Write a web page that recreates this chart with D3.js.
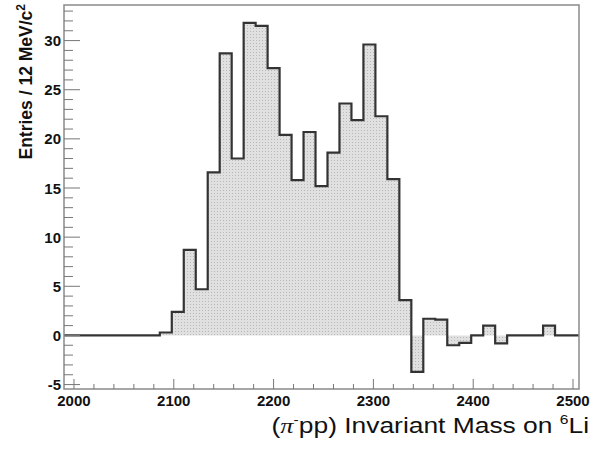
<!DOCTYPE html>
<html>
<head>
<meta charset="utf-8">
<script src="https://cdn.jsdelivr.net/npm/d3@7"></script>
<style>
  body { margin: 0; background: #fff; }
  svg { display: block; }
</style>
</head>
<body>
<script>
// bin lower edges (MeV/c^2), 12 MeV wide
var binEdges = [1990, 2002, 2014, 2026, 2038, 2050, 2062, 2074, 2086, 2098,
  2110, 2122, 2134, 2146, 2158, 2170, 2182, 2194, 2206, 2218,
  2230, 2242, 2254, 2266, 2278, 2290, 2302, 2314, 2326, 2338,
  2350, 2362, 2374, 2386, 2398, 2410, 2422, 2434, 2446, 2458,
  2470, 2482, 2494];
var entries = [0, 0, 0, 0, 0, 0, 0, 0, 0.3, 2.4,
  8.7, 4.7, 16.6, 28.7, 18.0, 31.8, 31.5, 27.2, 20.4, 15.8,
  20.7, 15.2, 18.6, 23.6, 21.9, 29.6, 22.3, 15.9, 3.6, -3.7,
  1.7, 1.6, -1.0, -0.75, 0, 1.0, -0.8, 0, 0, 0,
  1.0, 0, 0];
var xTicks = [2000, 2100, 2200, 2300, 2400, 2500];
var yTicks = [-5, 0, 5, 10, 15, 20, 25, 30];

var width = 592, height = 449;
var pLeft = 64, pRight = 579, pTop = 5, pBottom = 389;
var xMax = 2506;

var x = d3.scaleLinear().domain([1990, xMax]).range([pLeft, pRight]);
var y = d3.scaleLinear().domain([-5.45, 33.62]).range([pBottom, pTop]);

var svg = d3.select("body").append("svg")
  .attr("width", width)
  .attr("height", height);

// stipple fill like the ROOT histogram
var pat = svg.append("defs").append("pattern")
  .attr("id", "dots")
  .attr("width", 3).attr("height", 3)
  .attr("patternUnits", "userSpaceOnUse");
pat.append("rect").attr("width", 3).attr("height", 3).attr("fill", "#e0e0e0");
pat.append("rect").attr("x", 1).attr("y", 1).attr("width", 1).attr("height", 1).attr("fill", "#b8b8b8");

var pts = binEdges.map((e, i) => [e, entries[i]]);
pts.push([xMax, entries[entries.length - 1]]);

var area = d3.area()
  .x(d => x(d[0]))
  .y0(y(0))
  .y1(d => y(d[1]))
  .curve(d3.curveStepAfter);

var line = d3.line()
  .x(d => x(d[0]))
  .y(d => y(d[1]))
  .curve(d3.curveStepAfter);

svg.append("path")
  .attr("d", area(pts))
  .attr("fill", "url(#dots)");

svg.append("path")
  .attr("d", line(pts))
  .attr("fill", "none")
  .attr("stroke", "#333")
  .attr("stroke-width", 2.2);

// frame
svg.append("rect")
  .attr("x", pLeft).attr("y", pTop)
  .attr("width", pRight - pLeft).attr("height", pBottom - pTop)
  .attr("fill", "none")
  .attr("stroke", "#8a8a8a")
  .attr("stroke-width", 1.5);

// y axis ticks (inside)
var yMinor = d3.range(-5, 34, 1);
svg.append("g").selectAll("line").data(yMinor).enter().append("line")
  .attr("x1", pLeft).attr("x2", d => pLeft + (d % 5 === 0 ? 16 : 9))
  .attr("y1", d => y(d)).attr("y2", d => y(d))
  .attr("stroke", "#777").attr("stroke-width", 1);

svg.append("g").selectAll("text").data(yTicks).enter().append("text")
  .attr("x", pLeft - 3)
  .attr("y", d => y(d) + 5.5)
  .attr("text-anchor", "end")
  .attr("font-family", "Liberation Sans, Arial, sans-serif")
  .attr("font-weight", "bold")
  .attr("font-size", 15)
  .attr("fill", "#111")
  .text(d => d);

// x axis ticks (inside)
var xMinor = d3.range(2000, 2501, 20);
svg.append("g").selectAll("line").data(xMinor).enter().append("line")
  .attr("x1", d => x(d)).attr("x2", d => x(d))
  .attr("y1", pBottom).attr("y2", d => pBottom - (d % 100 === 0 ? 10 : 5))
  .attr("stroke", "#777").attr("stroke-width", 1);

svg.append("g").selectAll("text").data(xTicks).enter().append("text")
  .attr("x", d => x(d))
  .attr("y", 406)
  .attr("text-anchor", "middle")
  .attr("font-family", "Liberation Sans, Arial, sans-serif")
  .attr("font-weight", "bold")
  .attr("font-size", 15)
  .attr("fill", "#111")
  .text(d => d);

// y title
var yt = svg.append("text")
  .attr("transform", "translate(32,4) rotate(-90)")
  .attr("text-anchor", "end")
  .attr("font-family", "Liberation Sans, Arial, sans-serif")
  .attr("font-weight", "bold")
  .attr("font-size", 17.5)
  .attr("fill", "#111");
yt.append("tspan").text("Entries / 12 MeV/c");
yt.append("tspan").attr("font-size", 12).attr("dy", -7).text("2");

// x title (reference lettering is slightly stretched sideways)
var xt = svg.append("text")
  .attr("transform", "translate(589,433) scale(1.2,1)")
  .attr("text-anchor", "end")
  .attr("font-family", "Liberation Sans, Arial, sans-serif")
  .attr("font-size", 22)
  .attr("fill", "#111");
xt.append("tspan").text("(");
xt.append("tspan").attr("font-family", "Liberation Serif, serif").attr("font-style", "italic").text("π");
xt.append("tspan").attr("font-size", 13).attr("dy", -9).text("-");
xt.append("tspan").attr("dy", 9).text("pp) Invariant Mass on ");
xt.append("tspan").attr("font-size", 13).attr("dy", -9).text("6");
xt.append("tspan").attr("dy", 9).text("Li");
</script>
</body>
</html>
